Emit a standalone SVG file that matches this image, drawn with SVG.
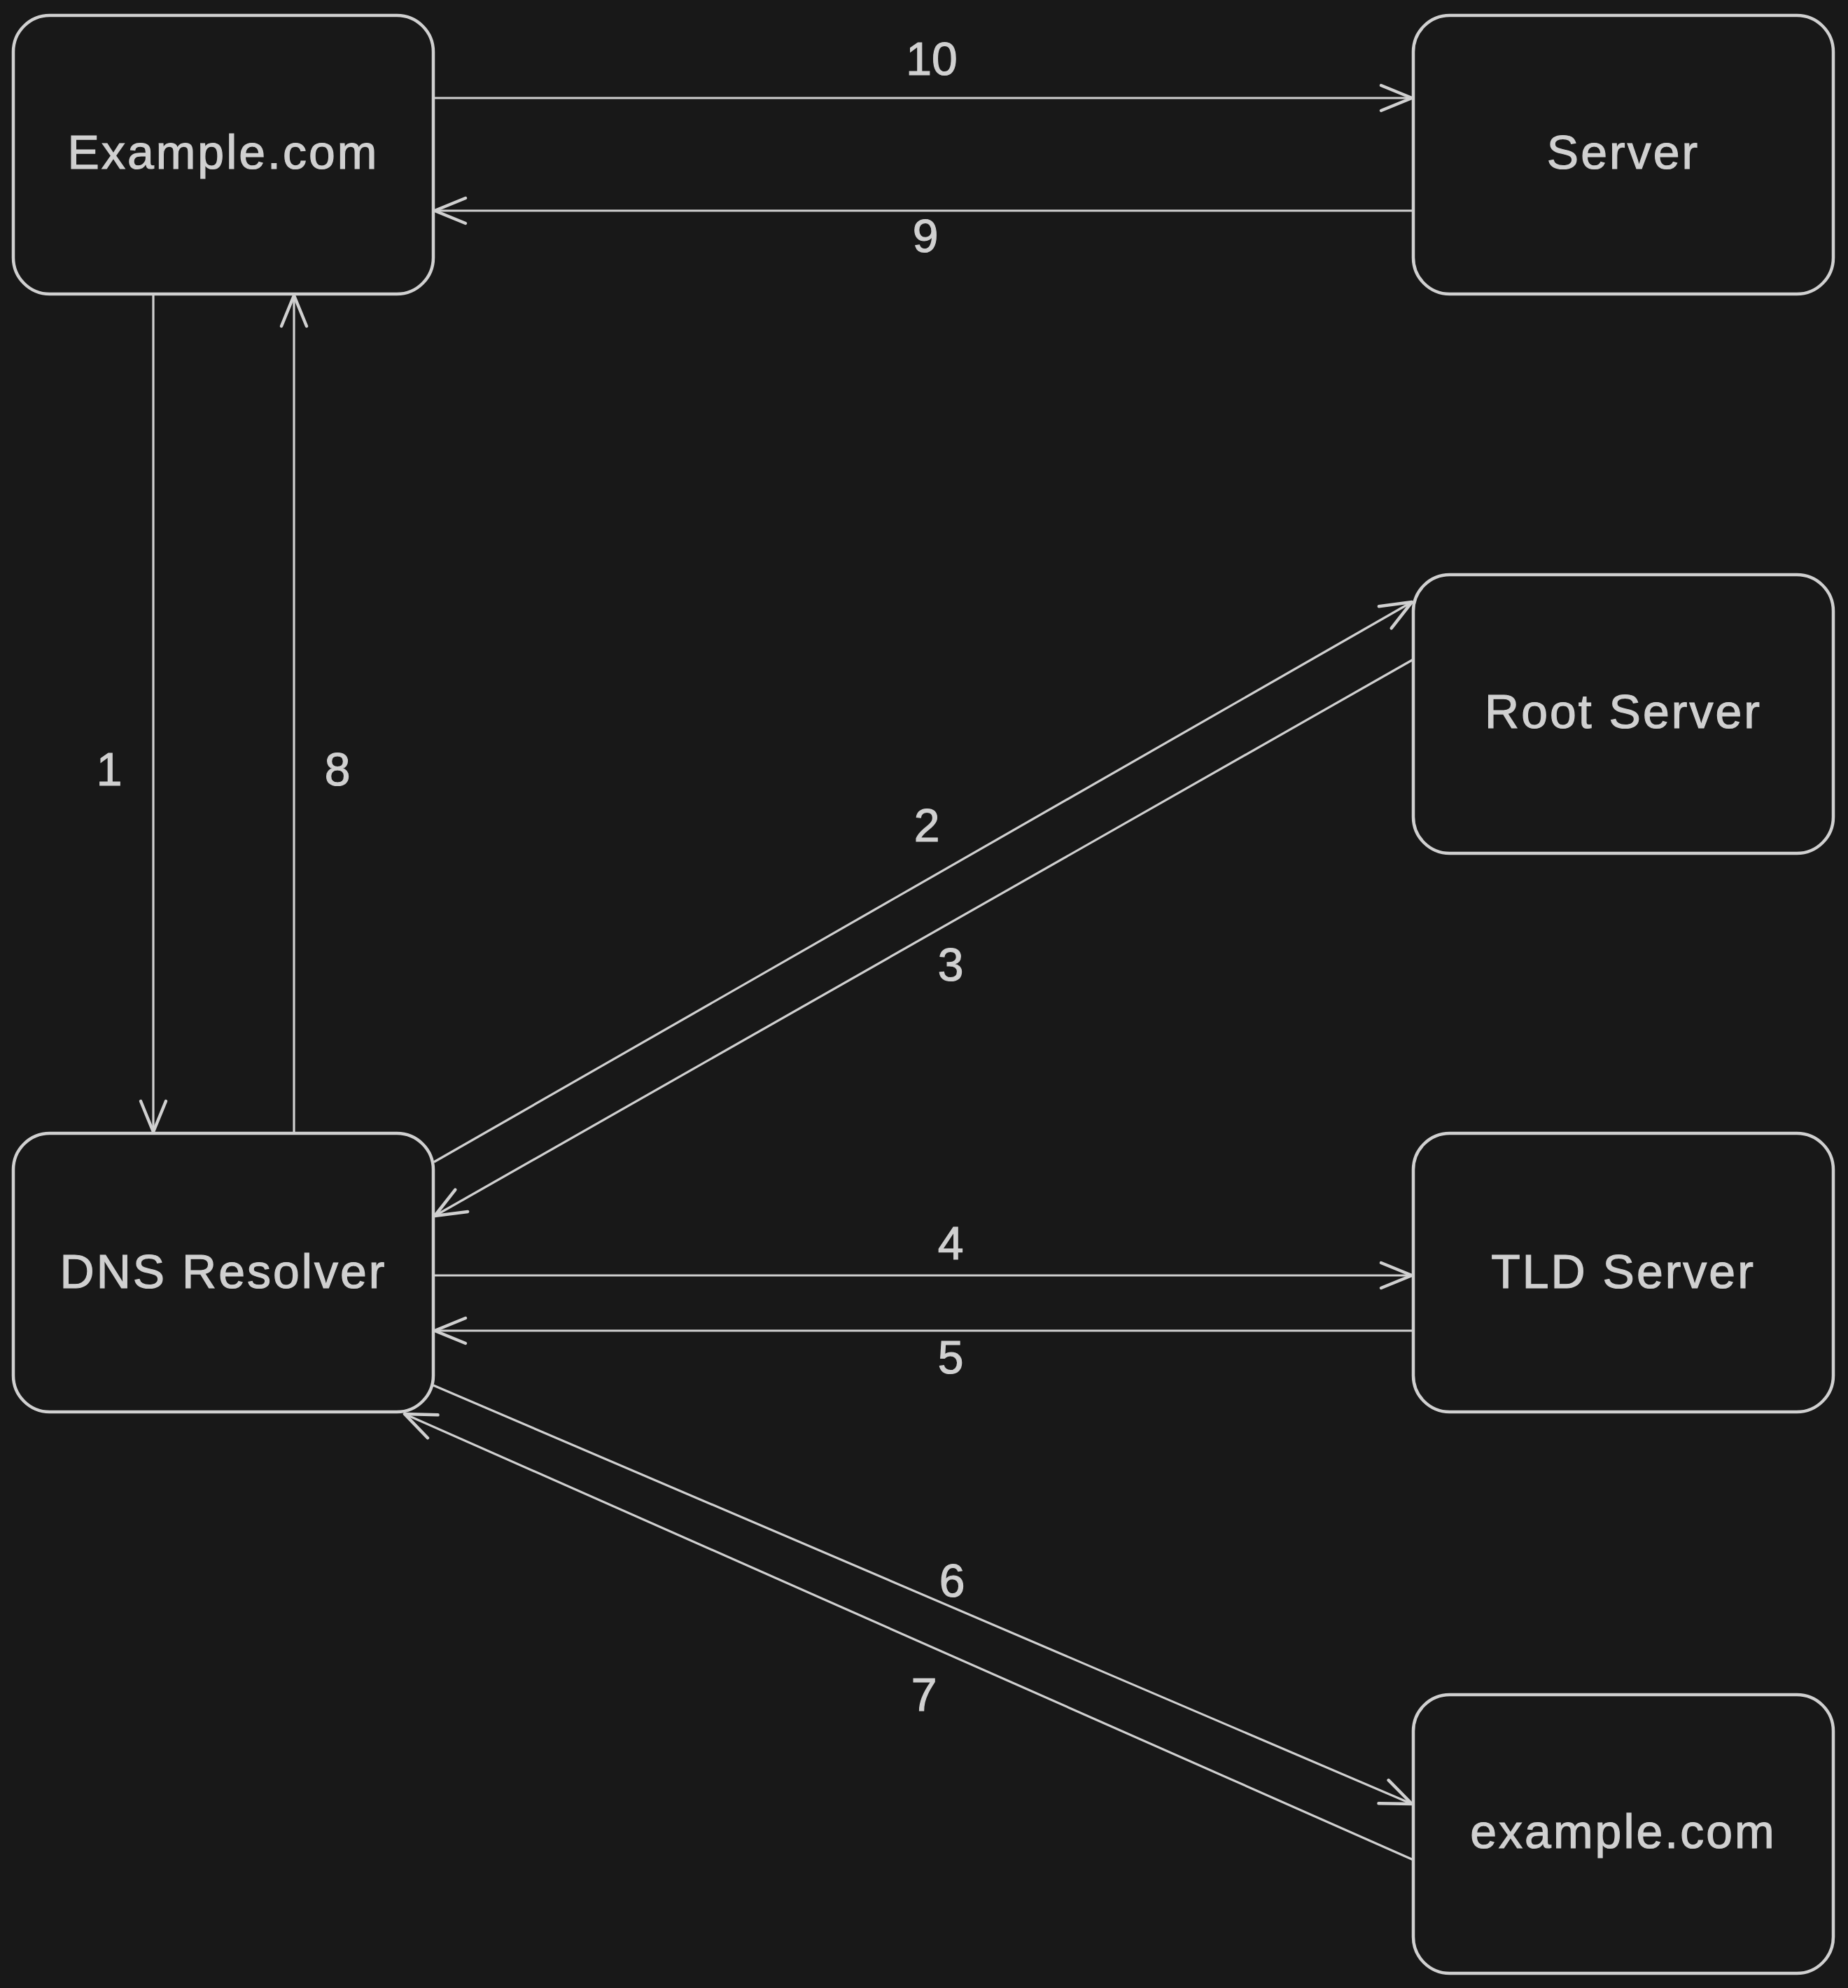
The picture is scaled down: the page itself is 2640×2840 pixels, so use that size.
<svg xmlns="http://www.w3.org/2000/svg" width="2640" height="2840" viewBox="0 0 2640 2840">
<style>
.box{fill:#181818;stroke:#d0d0d0;stroke-width:4.5}
.lbl{font-family:"Liberation Sans","DejaVu Sans",sans-serif;font-size:68px;fill:#d0d0d0;stroke:#d0d0d0;stroke-width:1.2;text-anchor:middle;letter-spacing:3px}
.edge{fill:none;stroke:#d0d0d0;stroke-width:3.2;marker-end:url(#ah)}
.num{font-family:"Liberation Sans","DejaVu Sans",sans-serif;font-size:66px;fill:#d0d0d0;stroke:#d0d0d0;stroke-width:1.2;text-anchor:middle}
</style>
<defs>
<marker id="ah" markerUnits="userSpaceOnUse" markerWidth="52" markerHeight="44" viewBox="0 0 52 44" refX="47" refY="22" orient="auto">
<path d="M3,4 L47,22 L3,40" fill="none" stroke="#d0d0d0" stroke-width="4.5" stroke-linecap="round" stroke-linejoin="round"/>
</marker>
</defs>
<rect width="2640" height="2840" fill="#181818"/>
<g id="connectors">
<path class="edge" d="M219,420 L219,1617"/>
<path class="edge" d="M420,1617 L420,422"/>
<path class="edge" d="M621,140 L2017,140"/>
<path class="edge" d="M2019,301 L621,301"/>
<path class="edge" d="M620,1660 L2017,860"/>
<path class="edge" d="M2019,942 L621,1737"/>
<path class="edge" d="M621,1822 L2017,1822"/>
<path class="edge" d="M2019,1901 L621,1901"/>
<path class="edge" d="M619,1979 L2017,2577"/>
<path class="edge" d="M2019,2657 L578,2020"/>
<text class="num" x="156" y="1122">1</text>
<text class="num" x="482" y="1122">8</text>
<text class="num" x="1331" y="107">10</text>
<text class="num" x="1322" y="360">9</text>
<text class="num" x="1324" y="1202">2</text>
<text class="num" x="1358" y="1401">3</text>
<text class="num" x="1358" y="1799">4</text>
<text class="num" x="1358" y="1962">5</text>
<text class="num" x="1360" y="2281">6</text>
<text class="num" x="1320" y="2444">7</text>
</g>
<g id="node-example-com-top">
<rect class="box" x="19" y="22" width="600" height="398" rx="52"/>
<text class="lbl" x="319" y="241">Example.com</text>
</g>
<g id="node-server">
<rect class="box" x="2019" y="22" width="600" height="398" rx="52"/>
<text class="lbl" x="2319" y="241">Server</text>
</g>
<g id="node-root-server">
<rect class="box" x="2019" y="821" width="600" height="398" rx="52"/>
<text class="lbl" x="2319" y="1040">Root Server</text>
</g>
<g id="node-dns-resolver">
<rect class="box" x="19" y="1619" width="600" height="398" rx="52"/>
<text class="lbl" x="319" y="1840">DNS Resolver</text>
</g>
<g id="node-tld-server">
<rect class="box" x="2019" y="1619" width="600" height="398" rx="52"/>
<text class="lbl" x="2319" y="1840">TLD Server</text>
</g>
<g id="node-example-com">
<rect class="box" x="2019" y="2421" width="600" height="398" rx="52"/>
<text class="lbl" x="2319" y="2640">example.com</text>
</g>
</svg>
